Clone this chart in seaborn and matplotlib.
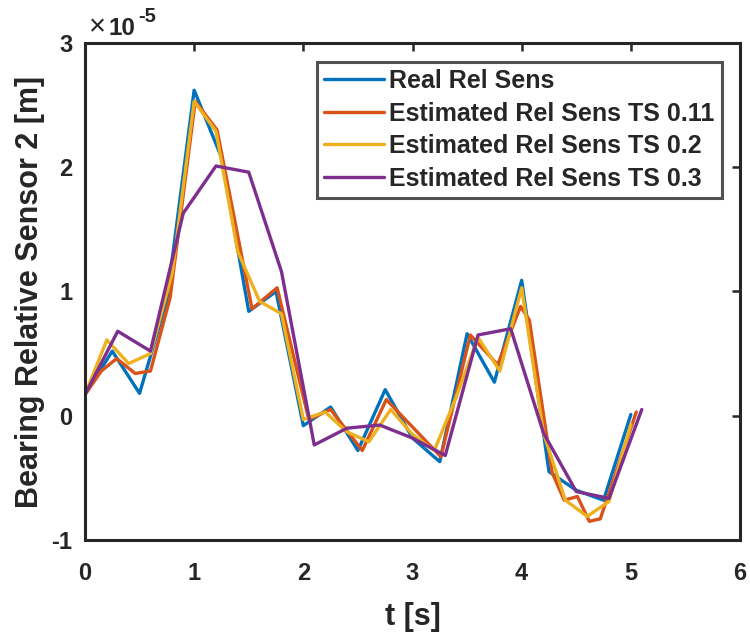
import matplotlib
matplotlib.use("Agg")
import matplotlib.pyplot as plt
import numpy as np
import pandas as pd
import seaborn as sns
from matplotlib.ticker import FuncFormatter

# values in units of 1e-5 m
real_t = [0, 0.25, 0.5, 0.75, 1.0, 1.25, 1.5, 1.75, 2.0, 2.25, 2.5, 2.75, 3.0,
          3.25, 3.5, 3.75, 4.0, 4.25, 4.5, 4.75, 5.0]
real_y = [0.17, 0.52, 0.18, 0.93, 2.62, 2.08, 0.84, 1.0, -0.08, 0.07, -0.28, 0.21, -0.18,
          -0.37, 0.66, 0.27, 1.09, -0.45, -0.60, -0.68, 0.01]

ts011_t = [0, 0.15, 0.29, 0.46, 0.60, 0.78, 1.01, 1.21, 1.53, 1.76, 2.05, 2.25, 2.54,
           2.76, 3.26, 3.53, 3.78, 3.99, 4.07, 4.28, 4.39, 4.51, 4.62, 4.72, 5.05]
ts011_y = [0.17, 0.36, 0.46, 0.34, 0.36, 0.95, 2.53, 2.30, 0.86, 1.03, -0.03, 0.05, -0.28,
           0.13, -0.33, 0.65, 0.41, 0.88, 0.77, -0.46, -0.68, -0.65, -0.85, -0.83, 0.03]

ts02_t = [0, 0.2, 0.4, 0.6, 0.8, 1.0, 1.2, 1.4, 1.6, 1.8, 2.0, 2.2, 2.4, 2.6, 2.8, 3.0,
          3.2, 3.4, 3.6, 3.8, 4.0, 4.2, 4.4, 4.6, 4.8, 5.0]
ts02_y = [0.17, 0.61, 0.42, 0.50, 1.15, 2.53, 2.29, 1.32, 0.92, 0.82, -0.03, 0.03, -0.13,
          -0.21, 0.05, -0.15, -0.28, 0.15, 0.63, 0.36, 1.03, -0.14, -0.68, -0.81, -0.69, -0.07]

ts03_t = [0, 0.3, 0.6, 0.9, 1.2, 1.5, 1.8, 2.1, 2.4, 2.7, 3.0, 3.3, 3.6, 3.9, 4.2, 4.5,
          4.8, 5.1]
ts03_y = [0.17, 0.68, 0.52, 1.63, 2.01, 1.96, 1.16, -0.235, -0.10, -0.075, -0.18, -0.32,
          0.65, 0.70, -0.14, -0.61, -0.665, 0.05]

labels = ["Real Rel Sens", "Estimated Rel Sens TS 0.11",
          "Estimated Rel Sens TS 0.2", "Estimated Rel Sens TS 0.3"]
colors = ["#0072BD", "#D95319", "#EDB120", "#7E2F8E"]

series = [(real_t, real_y), (ts011_t, ts011_y), (ts02_t, ts02_y), (ts03_t, ts03_y)]
frames = []
for lab, (t, y) in zip(labels, series):
    frames.append(pd.DataFrame({"t": t, "y": np.array(y) * 1e-5, "series": lab}))
df = pd.concat(frames, ignore_index=True)

sns.set_style("white")
plt.rcParams["font.family"] = ["Liberation Sans", "DejaVu Sans"]
plt.rcParams["font.weight"] = "bold"
plt.rcParams["axes.unicode_minus"] = False

fig = plt.figure(figsize=(7.5, 6.32), dpi=100)
ax = fig.add_axes([0.1133, 0.1456, 0.8734, 0.7864])

sns.lineplot(data=df, x="t", y="y", hue="series", hue_order=labels,
             palette=colors, linewidth=2.4, sort=False, estimator=None, ax=ax)

ax.set_xlim(0, 6)
ax.set_ylim(-1e-5, 3e-5)
ax.set_xticks(np.arange(0, 7, 1))
ax.set_yticks(np.arange(-1, 4, 1) * 1e-5)
ax.yaxis.set_major_formatter(FuncFormatter(lambda v, p: f"{round(v * 1e5):d}"))

# exponent label in the MATLAB style
fig.text(89 / 750, 1 - 35 / 632, "×", fontsize=21, fontweight="normal", color="#262626")
fig.text(109 / 750, 1 - 35 / 632, "10", fontsize=17.5, fontweight="bold", color="#262626")
fig.text(138 / 750, 1 - 22 / 632, "-5", fontsize=14.5, fontweight="bold", color="#262626")

ax.tick_params(direction="in", length=6, width=1.8, labelsize=17,
               top=True, right=True)
ax.tick_params(axis="x", pad=16)
ax.tick_params(axis="y", pad=9)
for lbl in ax.get_xticklabels() + ax.get_yticklabels():
    lbl.set_fontweight("bold")
for sp in ax.spines.values():
    sp.set_linewidth(2.2)
    sp.set_color("#262626")

ax.set_xlabel("t [s]", fontsize=22, fontweight="bold", labelpad=12)
ax.set_ylabel("Bearing Relative Sensor 2 [m]", fontsize=22, fontweight="bold", labelpad=5)

leg = ax.legend(loc="upper right", bbox_to_anchor=(0.9725, 0.962), fontsize=18,
                frameon=True, fancybox=False, handlelength=2.4, borderpad=0.29,
                labelspacing=0.34, handletextpad=0.2, borderaxespad=0)
leg.get_frame().set_edgecolor("#262626")
leg.get_frame().set_linewidth(2.2)
for txt in leg.get_texts():
    txt.set_fontweight("bold")

fig.savefig("out.png", dpi=100)
